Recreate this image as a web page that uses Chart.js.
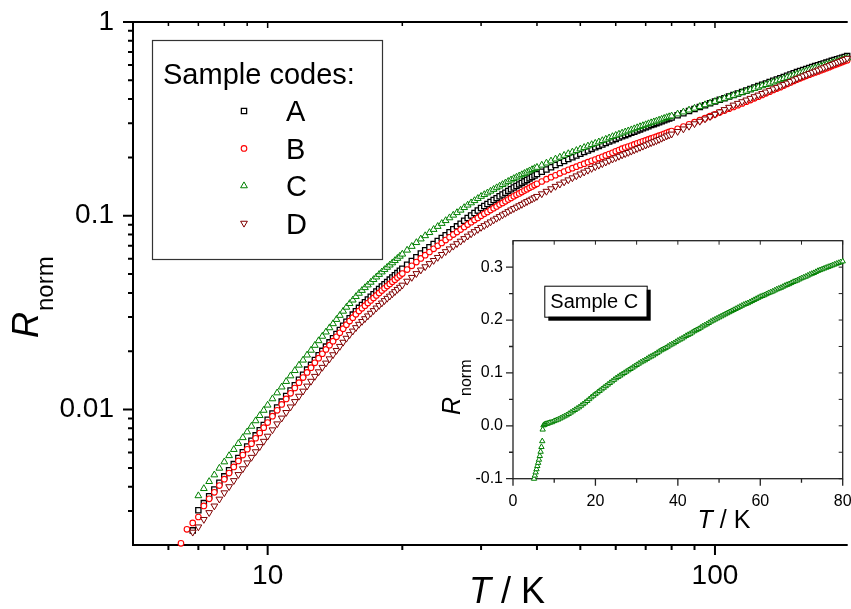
<!DOCTYPE html>
<html>
<head>
<meta charset="utf-8">
<title>R_norm vs T</title>
<script src="https://cdn.jsdelivr.net/npm/chart.js@4.4.1/dist/chart.umd.min.js"></script>
<style>
  html, body { margin: 0; padding: 0; background: #fff; overflow: hidden; }
  #wrap { position: relative; width: 851px; height: 609px; overflow: hidden; }
  #main { position: absolute; left: 0; top: 0; }
  #insetBox { position: absolute; left: 420px; top: 228px; width: 440px; height: 310px; }
</style>
</head>
<body>
<div id="wrap">
  <canvas id="main" width="851" height="609"></canvas>
  <div id="insetBox"><canvas id="inset" width="440" height="310"></canvas></div>
</div>
<script>
// Temperatures (K) shared by the four samples of the main plot
const temps = [
  6.4, 6.6, 6.8, 7.0, 7.2, 7.4, 7.6, 7.8, 8.0, 8.2, 8.4, 8.6, 8.8, 9.0, 9.2, 9.4, 9.6, 9.8, 10.0,
  10.25, 10.5, 10.75, 11, 11.25, 11.5, 11.75, 12, 12.25, 12.5, 12.75, 13, 13.25, 13.5, 13.75, 14, 14.25, 14.5, 14.75, 15,
  15.25, 15.5, 15.75, 16, 16.25, 16.5, 16.75, 17, 17.25, 17.5, 17.75, 18, 18.25, 18.5, 18.75, 19, 19.25, 19.5, 19.75, 20,
  20.5, 21, 21.5, 22, 22.5, 23, 23.5, 24, 24.5, 25, 25.5, 26, 26.5, 27, 27.5, 28, 28.5, 29, 29.5, 30,
  30.5, 31, 31.5, 32, 32.5, 33, 33.5, 34, 34.5, 35, 35.5, 36, 36.5, 37, 37.5, 38, 38.5, 39, 39.5, 40,
  41, 42, 43, 44, 45, 46, 47, 48, 49, 50, 51, 52, 53, 54, 55, 56, 57, 58, 59, 60,
  61, 62, 63, 64, 65, 66, 67, 68, 69, 70, 71, 72, 73, 74, 75, 76, 77, 78, 79, 80,
  82.5, 85, 87.5, 90, 92.5, 95, 97.5, 100, 102.5, 105, 107.5, 110, 112.5, 115, 117.5, 120, 122.5, 125, 127.5, 130, 132.5, 135, 137.5, 140,
  142.5, 145, 147.5, 150, 152.5, 155, 157.5, 160, 162.5, 165, 167.5, 170, 172.5, 175, 177.5, 180, 182.5, 185, 187.5, 190, 192.5, 195, 197.5, 200
];

// Normalised resistance, one list per sample (null = no reading)
const rA = [
  null, null, 0.00238, 0.00302, 0.00329, 0.00357, 0.00387, 0.00419, 0.00452, 0.00486, 0.00523, 0.00562, 0.00602, 0.00645, 0.00690, 0.00736, 0.00783, 0.00833, 0.00886,
  0.00955, 0.01025, 0.01099, 0.01174, 0.01255, 0.01336, 0.01425, 0.01513, 0.01607, 0.01701, 0.01803, 0.01905, 0.02008, 0.02113, 0.02222, 0.02332, 0.02453, 0.02575, 0.02706, 0.02837,
  0.02963, 0.03089, 0.03219, 0.03348, 0.03463, 0.03579, 0.03698, 0.03817, 0.0394, 0.04063, 0.04188, 0.04313, 0.04435, 0.04558, 0.04682, 0.04806, 0.04937, 0.05068, 0.05199, 0.05331,
  0.05588, 0.05845, 0.06114, 0.06383, 0.06636, 0.06888, 0.07149, 0.07409, 0.07674, 0.07939, 0.0823, 0.0853, 0.0882, 0.0910, 0.0942, 0.0973, 0.1003, 0.1033, 0.1065, 0.1097,
  0.1123, 0.1149, 0.1177, 0.1205, 0.1233, 0.1260, 0.1288, 0.1315, 0.1344, 0.1372, 0.1399, 0.1426, 0.1452, 0.1478, 0.1505, 0.1531, 0.1559, 0.1586, 0.1614, 0.1641,
  0.1688, 0.1734, 0.1781, 0.1828, 0.1873, 0.1918, 0.1962, 0.2005, 0.2047, 0.2089, 0.2131, 0.2172, 0.2214, 0.2255, 0.2294, 0.2333, 0.2374, 0.2415, 0.2454, 0.2493,
  0.2532, 0.2571, 0.2607, 0.2643, 0.2680, 0.2716, 0.2754, 0.2792, 0.2827, 0.2862, 0.2900, 0.2938, 0.2972, 0.3006, 0.3041, 0.3076, 0.3112, 0.3147, 0.3181, 0.3214,
  0.3299, 0.3384, 0.3471, 0.3557, 0.3640, 0.3722, 0.3806, 0.389, 0.3968, 0.4045, 0.4125, 0.4204, 0.4280, 0.4355, 0.4431, 0.4507, 0.4588, 0.4668, 0.4744, 0.4820, 0.4898, 0.4976, 0.5054, 0.5131,
  0.5208, 0.5285, 0.5364, 0.5443, 0.5514, 0.5584, 0.5656, 0.5727, 0.5794, 0.5860, 0.5921, 0.5982, 0.6045, 0.6107, 0.6171, 0.6235, 0.6301, 0.6366, 0.6426, 0.6485, 0.6545, 0.6605, 0.6667, 0.6728
];
const rB = [
  0.00204, 0.00241, 0.00260, 0.00279, 0.00318, 0.00346, 0.00374, 0.00405, 0.00437, 0.00470, 0.00506, 0.00543, 0.00582, 0.00624, 0.00667, 0.00711, 0.00757, 0.00806, 0.00857,
  0.00924, 0.00991, 0.01063, 0.01135, 0.01213, 0.01292, 0.01377, 0.01463, 0.01554, 0.01645, 0.01743, 0.01841, 0.01941, 0.02042, 0.02148, 0.02254, 0.02372, 0.02489, 0.02616, 0.02742,
  0.02861, 0.02979, 0.03100, 0.03221, 0.03328, 0.03435, 0.03545, 0.03654, 0.03767, 0.03879, 0.03996, 0.04113, 0.04225, 0.04336, 0.04449, 0.04561, 0.04679, 0.04797, 0.04915, 0.05033,
  0.05276, 0.05518, 0.05772, 0.06026, 0.06265, 0.06503, 0.06749, 0.06995, 0.07245, 0.07495, 0.07746, 0.07996, 0.08242, 0.08488, 0.0875, 0.09012, 0.09258, 0.09504, 0.0975, 0.09996,
  0.1023, 0.1046, 0.1070, 0.1094, 0.1118, 0.1142, 0.1165, 0.1188, 0.1213, 0.1237, 0.1260, 0.1282, 0.1304, 0.1326, 0.1349, 0.1372, 0.1395, 0.1417, 0.1440, 0.1462,
  0.1503, 0.1544, 0.1582, 0.1619, 0.1656, 0.1692, 0.1726, 0.1760, 0.1793, 0.1826, 0.1858, 0.1890, 0.1921, 0.1952, 0.1984, 0.2015, 0.2048, 0.2081, 0.2115, 0.2150,
  0.2185, 0.2219, 0.2248, 0.2276, 0.2305, 0.2334, 0.2364, 0.2394, 0.2422, 0.2449, 0.2478, 0.2507, 0.2533, 0.2559, 0.2589, 0.2619, 0.2650, 0.2680, 0.2708, 0.2736,
  0.2811, 0.2886, 0.2963, 0.3040, 0.3116, 0.3191, 0.3267, 0.3342, 0.3417, 0.3491, 0.3567, 0.3643, 0.3723, 0.3802, 0.3878, 0.3953, 0.4036, 0.4119, 0.4203, 0.4287, 0.4372, 0.4457, 0.4535, 0.4612,
  0.4700, 0.4788, 0.4877, 0.4965, 0.5043, 0.5120, 0.5197, 0.5273, 0.5349, 0.5424, 0.5493, 0.5561, 0.5631, 0.5701, 0.5773, 0.5845, 0.5922, 0.5999, 0.6068, 0.6136, 0.6210, 0.6283, 0.6355, 0.6426
];
const rC = [
  null, null, null, 0.00359, 0.00391, 0.00425, 0.00460, 0.00498, 0.00537, 0.00578, 0.00622, 0.00668, 0.00716, 0.00767, 0.00820, 0.00875, 0.00931, 0.00991, 0.01054,
  0.01136, 0.01219, 0.01307, 0.01396, 0.01492, 0.01589, 0.01694, 0.01799, 0.01911, 0.02023, 0.02144, 0.02265, 0.02388, 0.02512, 0.02642, 0.02773, 0.02917, 0.03062, 0.03217, 0.03373,
  0.03523, 0.03673, 0.03827, 0.03981, 0.04118, 0.04256, 0.04397, 0.04539, 0.04685, 0.04831, 0.04980, 0.05129, 0.05274, 0.0542, 0.05567, 0.05715, 0.05870, 0.06026, 0.06182, 0.06339,
  0.06645, 0.0695, 0.0727, 0.0759, 0.0789, 0.0819, 0.0850, 0.0881, 0.0913, 0.0944, 0.0976, 0.1007, 0.1038, 0.1069, 0.1102, 0.1135, 0.1166, 0.1197, 0.1228, 0.1259,
  0.1286, 0.1312, 0.1340, 0.1368, 0.1395, 0.1422, 0.1449, 0.1476, 0.1504, 0.1531, 0.1556, 0.1581, 0.1605, 0.1629, 0.1654, 0.1679, 0.1705, 0.1730, 0.1754, 0.1778,
  0.1825, 0.1871, 0.1917, 0.1963, 0.2007, 0.2051, 0.2092, 0.2133, 0.2173, 0.2213, 0.2252, 0.2291, 0.2329, 0.2366, 0.2405, 0.2443, 0.2483, 0.2523, 0.2562, 0.2600,
  0.2637, 0.2673, 0.2708, 0.2742, 0.2777, 0.2812, 0.2848, 0.2884, 0.2918, 0.2951, 0.2986, 0.3020, 0.3052, 0.3083, 0.3116, 0.3148, 0.3181, 0.3214, 0.3244, 0.3273,
  0.3353, 0.3432, 0.3511, 0.3589, 0.3665, 0.3741, 0.3816, 0.389, 0.3963, 0.4036, 0.4110, 0.4183, 0.4254, 0.4325, 0.4396, 0.4467, 0.4540, 0.4613, 0.4683, 0.4753, 0.4826, 0.4898, 0.4967, 0.5035,
  0.5106, 0.5176, 0.5249, 0.5321, 0.5390, 0.5458, 0.5528, 0.5598, 0.5663, 0.5728, 0.5788, 0.5848, 0.5909, 0.597, 0.6033, 0.6095, 0.6159, 0.6223, 0.6281, 0.6339, 0.6398, 0.6457, 0.6517, 0.6577
];
const rD = [
  null, null, 0.00233, 0.00248, 0.00271, 0.00294, 0.00318, 0.00345, 0.00372, 0.00400, 0.00430, 0.00462, 0.00495, 0.00531, 0.00567, 0.00606, 0.00644, 0.00686, 0.00729,
  0.00786, 0.00844, 0.00904, 0.00966, 0.01032, 0.01100, 0.01172, 0.01245, 0.01322, 0.01400, 0.01484, 0.01567, 0.01652, 0.01738, 0.01828, 0.01919, 0.02019, 0.02119, 0.02226, 0.02334,
  0.02438, 0.02542, 0.02648, 0.02755, 0.0285, 0.02945, 0.03043, 0.03141, 0.03242, 0.03343, 0.03446, 0.03549, 0.0365, 0.03751, 0.03852, 0.03955, 0.04062, 0.04170, 0.04278, 0.04387,
  0.04598, 0.04809, 0.05031, 0.05252, 0.0546, 0.05667, 0.05882, 0.06097, 0.06315, 0.06532, 0.0675, 0.06968, 0.07183, 0.07397, 0.07626, 0.07854, 0.08069, 0.08283, 0.08498, 0.08712,
  0.0890, 0.0909, 0.0930, 0.0951, 0.0971, 0.0991, 0.1011, 0.1030, 0.1051, 0.1072, 0.1090, 0.1108, 0.1127, 0.1145, 0.1165, 0.1184, 0.1203, 0.1221, 0.1240, 0.1259,
  0.1299, 0.1338, 0.1379, 0.1419, 0.1457, 0.1495, 0.1533, 0.1570, 0.1607, 0.1644, 0.1681, 0.1718, 0.1755, 0.1791, 0.1824, 0.1857, 0.1893, 0.1928, 0.1961, 0.1994,
  0.2028, 0.2061, 0.2092, 0.2122, 0.2155, 0.2188, 0.2222, 0.2255, 0.2286, 0.2317, 0.2350, 0.2383, 0.2413, 0.2442, 0.2477, 0.2512, 0.2548, 0.2584, 0.2613, 0.2641,
  0.2724, 0.2807, 0.2897, 0.2986, 0.3074, 0.3161, 0.3252, 0.3342, 0.3437, 0.3532, 0.3630, 0.3727, 0.3804, 0.3880, 0.3959, 0.4038, 0.4118, 0.4198, 0.4276, 0.4354, 0.4438, 0.4521, 0.4600, 0.4678,
  0.4759, 0.4840, 0.4932, 0.5023, 0.5107, 0.5191, 0.5269, 0.5346, 0.5428, 0.5510, 0.5580, 0.5649, 0.5729, 0.5809, 0.5882, 0.5955, 0.6039, 0.6123, 0.6196, 0.6269, 0.6341, 0.6412, 0.6495, 0.6577
];
const seriesNames = ['A', 'B', 'C', 'D'];

// Inset: sample C on a linear scale
const insetT = [
  5.1, 5.3, 5.5, 5.7, 5.9, 6.1, 6.3, 6.5, 6.7, 6.9, 7.1, 7.2, 7.4, 7.6, 7.8, 8.0, 8.3, 8.6, 9.0, 9.5,
  10, 10.5, 11, 11.5, 12, 12.5, 13, 13.5, 14, 14.5, 15, 15.5, 16, 16.5, 17, 17.5, 18, 18.5, 19, 19.5,
  20, 20.5, 21, 21.5, 22, 22.5, 23, 23.5, 24, 24.5, 25, 25.5, 26, 26.5, 27, 27.5, 28, 28.5, 29, 29.5,
  30, 30.5, 31, 31.5, 32, 32.5, 33, 33.5, 34, 34.5, 35, 35.5, 36, 36.5, 37, 37.5, 38, 38.5, 39, 39.5,
  40, 40.5, 41, 41.5, 42, 42.5, 43, 43.5, 44, 44.5, 45, 45.5, 46, 46.5, 47, 47.5, 48, 48.5, 49, 49.5,
  50, 50.5, 51, 51.5, 52, 52.5, 53, 53.5, 54, 54.5, 55, 55.5, 56, 56.5, 57, 57.5, 58, 58.5, 59, 59.5,
  60, 60.5, 61, 61.5, 62, 62.5, 63, 63.5, 64, 64.5, 65, 65.5, 66, 66.5, 67, 67.5, 68, 68.5, 69, 69.5,
  70, 70.5, 71, 71.5, 72, 72.5, 73, 73.5, 74, 74.5, 75, 75.5, 76, 76.5, 77, 77.5, 78, 78.5, 79, 79.5, 80
];
const insetR = [
  -0.100, -0.094, -0.088, -0.082, -0.076, -0.070, -0.064, -0.057, -0.049, -0.040, -0.029, -0.007, 0.001, 0.002, 0.003, 0.0035, 0.004, 0.005, 0.006, 0.007,
  0.009, 0.0105, 0.012, 0.014, 0.016, 0.018, 0.020, 0.0225, 0.025, 0.0275, 0.030, 0.0325, 0.035, 0.038, 0.041, 0.044, 0.047, 0.0505, 0.054, 0.057,
  0.060, 0.063, 0.066, 0.069, 0.072, 0.075, 0.078, 0.081, 0.084, 0.087, 0.090, 0.0925, 0.095, 0.0975, 0.100, 0.1025, 0.105, 0.1075, 0.110, 0.1125,
  0.115, 0.1175, 0.120, 0.122, 0.124, 0.1265, 0.129, 0.131, 0.133, 0.1355, 0.138, 0.1405, 0.143, 0.145, 0.147, 0.1495, 0.152, 0.154, 0.156, 0.1585,
  0.161, 0.163, 0.165, 0.1675, 0.170, 0.172, 0.174, 0.1765, 0.179, 0.181, 0.183, 0.1855, 0.188, 0.190, 0.192, 0.1945, 0.197, 0.199, 0.201, 0.203,
  0.205, 0.207, 0.209, 0.211, 0.213, 0.215, 0.217, 0.219, 0.221, 0.223, 0.225, 0.227, 0.229, 0.2305, 0.232, 0.234, 0.236, 0.238, 0.240, 0.242,
  0.244, 0.2455, 0.247, 0.249, 0.251, 0.2525, 0.254, 0.256, 0.258, 0.2595, 0.261, 0.263, 0.265, 0.2665, 0.268, 0.270, 0.272, 0.2735, 0.275, 0.277,
  0.279, 0.2805, 0.282, 0.284, 0.286, 0.2875, 0.289, 0.291, 0.293, 0.2945, 0.296, 0.2975, 0.299, 0.3005, 0.302, 0.3035, 0.305, 0.3065, 0.308, 0.3095, 0.311
];

// Tick positions
const xLabelTicks = [10, 100];
const xMinorTicks = [6, 7, 8, 9, 20, 30, 40, 50, 60, 70, 80, 90];
const yLabelTicks = [0.01, 0.1, 1];
const yMinorTicks = [0.003, 0.004, 0.005, 0.006, 0.007, 0.008, 0.009,
  0.02, 0.03, 0.04, 0.05, 0.06, 0.07, 0.08, 0.09,
  0.2, 0.3, 0.4, 0.5, 0.6, 0.7, 0.8, 0.9];
const insetXTicks = [0, 20, 40, 60, 80];
const insetXMinor = [10, 30, 50, 70];
const insetYTicks = [-0.1, 0, 0.1, 0.2, 0.3];
const insetYMinor = [-0.05, 0.05, 0.15, 0.25];

const FONT = '"Liberation Sans", Arial, Helvetica, sans-serif';

const markerStyles = [
  { pointStyle: 'rect', rotation: 0, radius: 3.7, color: '#000000', width: 1.3 },
  { pointStyle: 'circle', rotation: 0, radius: 2.8, color: '#ff0000', width: 1.1 },
  { pointStyle: 'triangle', rotation: 0, radius: 3.9, color: '#008000', width: 1 },
  { pointStyle: 'triangle', rotation: 180, radius: 3.9, color: '#800000', width: 1 }
];

function toPoints(xs, ys) {
  return xs.map(function(x, i) {
    return ys[i] == null ? null : { x: x, y: ys[i] };
  }).filter(function(p) { return p; });
}

// keep label overhang from pushing the plot area around
function fixSize(w, h) {
  return function(s) {
    if (w != null) s.width = w;
    if (h != null) s.height = h;
    s.paddingTop = 0; s.paddingBottom = 0; s.paddingLeft = 0; s.paddingRight = 0;
  };
}

// short tick marks through the chart's own scales
function strokeTicks(ctx, scale, values, edge, len, isX) {
  ctx.beginPath();
  values.forEach(function(v) {
    const p = scale.getPixelForValue(v);
    if (isX) { ctx.moveTo(p, edge); ctx.lineTo(p, edge + len); }
    else { ctx.moveTo(edge, p); ctx.lineTo(edge + len, p); }
  });
  ctx.stroke();
}

function drawTitleT(ctx, cx, baseline, size) {
  ctx.font = 'italic ' + size + 'px ' + FONT;
  const wT = ctx.measureText('T').width;
  ctx.font = size + 'px ' + FONT;
  const wRest = ctx.measureText(' / K').width;
  const x = cx - (wT + wRest) / 2;
  ctx.textAlign = 'left';
  ctx.textBaseline = 'alphabetic';
  ctx.font = 'italic ' + size + 'px ' + FONT;
  ctx.fillText('T', x, baseline);
  ctx.font = size + 'px ' + FONT;
  ctx.fillText(' / K', x + wT, baseline);
}

function drawTitleR(ctx, x, y, size, subSize, subDrop) {
  ctx.save();
  ctx.translate(x, y);
  ctx.rotate(-Math.PI / 2);
  ctx.textAlign = 'left';
  ctx.textBaseline = 'alphabetic';
  ctx.font = 'italic ' + size + 'px ' + FONT;
  ctx.fillText('R', 0, 0);
  const w = ctx.measureText('R').width;
  ctx.font = subSize + 'px ' + FONT;
  ctx.fillText('norm', w + 1, subDrop);
  ctx.restore();
}

function drawMarker(ctx, st, x, y) {
  ctx.save();
  ctx.strokeStyle = st.color;
  ctx.fillStyle = '#ffffff';
  ctx.lineWidth = st.width;
  Chart.helpers.drawPoint(ctx, { pointStyle: st.pointStyle, rotation: st.rotation, radius: st.radius, borderWidth: st.width }, x, y);
  ctx.restore();
}

const mainDecor = {
  id: 'mainDecor',
  beforeDraw(chart) {
    const ctx = chart.ctx;
    ctx.save();
    ctx.fillStyle = '#ffffff';
    ctx.fillRect(0, 0, chart.width, chart.height);
    ctx.restore();
  },
  beforeDatasetsDraw(chart) {
    const ctx = chart.ctx;
    const a = chart.chartArea;
    const xs = chart.scales.x, ys = chart.scales.y;
    ctx.save();
    ctx.strokeStyle = '#000';
    ctx.lineWidth = 2;
    ctx.beginPath();
    ctx.moveTo(a.left, a.top - 1);
    ctx.lineTo(a.left, a.bottom + 1);
    ctx.moveTo(a.left - 1, a.bottom);
    ctx.lineTo(a.right + 2, a.bottom);
    ctx.moveTo(a.left, a.top);
    ctx.lineTo(a.right + 2, a.top);
    ctx.stroke();
    // left and bottom ticks point outward, top ticks inward
    strokeTicks(ctx, ys, yLabelTicks, a.left, -10, false);
    strokeTicks(ctx, ys, yMinorTicks, a.left, -5, false);
    strokeTicks(ctx, xs, xLabelTicks, a.bottom, 10, true);
    strokeTicks(ctx, xs, xMinorTicks, a.bottom, 5, true);
    ctx.lineWidth = 1.5;
    strokeTicks(ctx, xs, xLabelTicks, a.top, 6, true);
    strokeTicks(ctx, xs, xMinorTicks, a.top, 4, true);
    ctx.restore();
  },
  afterDatasetsDraw(chart) {
    const ctx = chart.ctx;
    const a = chart.chartArea;
    ctx.save();
    // legend box
    const bx = a.left + 19, by = a.top + 18;
    ctx.fillStyle = '#ffffff';
    ctx.fillRect(bx, by, 230, 219);
    ctx.strokeStyle = '#333';
    ctx.lineWidth = 1.2;
    ctx.strokeRect(bx + 0.5, by + 0.5, 230, 219);
    ctx.fillStyle = '#000';
    ctx.font = '29px ' + FONT;
    ctx.textAlign = 'left';
    ctx.textBaseline = 'alphabetic';
    ctx.fillText('Sample codes:', bx + 11, by + 44);
    seriesNames.forEach(function(name, i) {
      const y = by + 71 + i * 37.4;
      drawMarker(ctx, markerStyles[i], bx + 92, y);
      ctx.fillStyle = '#000';
      ctx.font = '29px ' + FONT;
      ctx.fillText(name, bx + 134, y + 10.4);
    });
    // axis titles
    ctx.fillStyle = '#000';
    drawTitleT(ctx, 507, 603, 36);
    drawTitleR(ctx, 38, 338, 36, 24, 15);
    ctx.restore();
  }
};

const mainChart = new Chart(document.getElementById('main'), {
  type: 'scatter',
  data: {
    datasets: [rA, rB, rC, rD].map(function(vals, i) {
      const st = markerStyles[i];
      return {
        label: seriesNames[i],
        data: toPoints(temps, vals),
        pointStyle: st.pointStyle,
        rotation: st.rotation,
        pointRadius: st.radius,
        borderColor: st.color,
        backgroundColor: '#ffffff',
        borderWidth: st.width,
        clip: false,
        order: 4 - i
      };
    })
  },
  options: {
    responsive: false,
    animation: false,
    devicePixelRatio: 1,
    events: [],
    layout: { padding: { top: 22, right: 0, left: 0, bottom: 0 } },
    plugins: { legend: { display: false }, tooltip: { enabled: false } },
    scales: {
      x: {
        type: 'logarithmic',
        min: 5,
        max: 196,
        afterFit: fixSize(null, 64),
        afterBuildTicks: function(s) { s.ticks = xLabelTicks.map(function(v) { return { value: v }; }); },
        grid: { display: false, drawTicks: false },
        border: { display: false },
        ticks: {
          autoSkip: false, maxRotation: 0, padding: 14, color: '#000',
          font: { family: FONT, size: 28 },
          callback: function(v) { return String(v); }
        }
      },
      y: {
        type: 'logarithmic',
        min: 0.002,
        max: 1,
        afterFit: fixSize(133, null),
        afterBuildTicks: function(s) { s.ticks = yLabelTicks.map(function(v) { return { value: v }; }); },
        grid: { display: false, drawTicks: false },
        border: { display: false },
        ticks: {
          autoSkip: false, padding: 19, color: '#000',
          font: { family: FONT, size: 28 },
          callback: function(v) { return String(v); }
        }
      }
    }
  },
  plugins: [mainDecor]
});

const insetDecor = {
  id: 'insetDecor',
  beforeDraw(chart) {
    const ctx = chart.ctx;
    const a = chart.chartArea;
    ctx.save();
    ctx.fillStyle = '#ffffff';
    ctx.fillRect(a.left, a.top, a.right - a.left, a.bottom - a.top);
    ctx.restore();
  },
  beforeDatasetsDraw(chart) {
    const ctx = chart.ctx;
    const a = chart.chartArea;
    const xs = chart.scales.x, ys = chart.scales.y;
    ctx.save();
    ctx.strokeStyle = '#222';
    ctx.lineWidth = 1.3;
    ctx.strokeRect(a.left, a.top, a.right - a.left, a.bottom - a.top);
    strokeTicks(ctx, ys, insetYTicks, a.left, -7, false);
    strokeTicks(ctx, ys, insetYMinor, a.left, -4, false);
    strokeTicks(ctx, xs, insetXTicks, a.bottom, 7, true);
    strokeTicks(ctx, xs, insetXMinor, a.bottom, 4, true);
    ctx.lineWidth = 1;
    strokeTicks(ctx, ys, insetYTicks.concat(insetYMinor), a.right, -4, false);
    strokeTicks(ctx, xs, insetXTicks.concat(insetXMinor), a.top, 4, true);
    ctx.restore();
  },
  afterDatasetsDraw(chart) {
    const ctx = chart.ctx;
    const a = chart.chartArea;
    ctx.save();
    // "Sample C" label with drop shadow
    const lx = a.left + 31.3, ly = a.top + 45;
    ctx.fillStyle = '#000';
    ctx.fillRect(lx + 4, ly + 4, 102.4, 31);
    ctx.fillStyle = '#fff';
    ctx.fillRect(lx, ly, 102.4, 31);
    ctx.strokeStyle = '#000';
    ctx.lineWidth = 1;
    ctx.strokeRect(lx + 0.5, ly + 0.5, 102.4, 31);
    ctx.fillStyle = '#000';
    ctx.font = '20px ' + FONT;
    ctx.textAlign = 'left';
    ctx.textBaseline = 'alphabetic';
    ctx.fillText('Sample C', lx + 6, ly + 22.6);
    drawTitleT(ctx, 304, 300, 25);
    drawTitleR(ctx, 40, 187, 25, 16, 11);
    ctx.restore();
  }
};

const insetChart = new Chart(document.getElementById('inset'), {
  type: 'scatter',
  data: {
    datasets: [{
      label: 'C',
      data: toPoints(insetT, insetR),
      pointStyle: 'triangle',
      pointRadius: 3.1,
      borderColor: '#008000',
      backgroundColor: '#ffffff',
      borderWidth: 1,
      clip: false
    }]
  },
  options: {
    responsive: false,
    animation: false,
    devicePixelRatio: 1,
    events: [],
    layout: { padding: { top: 12.7, right: 17.3, left: 0, bottom: 0 } },
    plugins: { legend: { display: false }, tooltip: { enabled: false } },
    scales: {
      x: {
        type: 'linear',
        min: 0,
        max: 80,
        afterFit: fixSize(null, 59.3),
        afterBuildTicks: function(s) { s.ticks = insetXTicks.map(function(v) { return { value: v }; }); },
        grid: { display: false, drawTicks: false },
        border: { display: false },
        ticks: {
          autoSkip: false, maxRotation: 0, padding: 13, color: '#000',
          font: { family: FONT, size: 16 },
          callback: function(v) { return String(v); }
        }
      },
      y: {
        type: 'linear',
        min: -0.1,
        max: 0.35,
        afterFit: fixSize(93, null),
        afterBuildTicks: function(s) { s.ticks = insetYTicks.map(function(v) { return { value: v }; }); },
        grid: { display: false, drawTicks: false },
        border: { display: false },
        ticks: {
          autoSkip: false, padding: 10, color: '#000',
          font: { family: FONT, size: 16 },
          callback: function(v) { return v.toFixed(1); }
        }
      }
    }
  },
  plugins: [insetDecor]
});
</script>
</body>
</html>
